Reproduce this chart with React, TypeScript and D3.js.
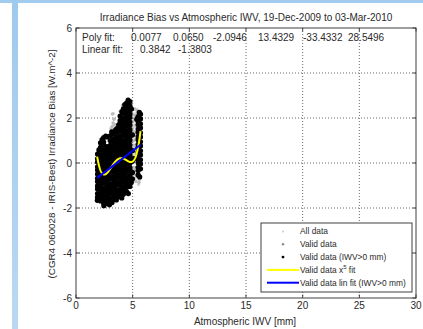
import React from "react";
import * as d3 from "d3";

// ---- data ----
const titleText = "Irradiance Bias vs Atmospheric IWV, 19-Dec-2009 to 03-Mar-2010";
const xLabelText = "Atmospheric IWV [mm]";
const yLabelText = "(CGR4 060028 - IRIS-Best) Irradiance Bias [W.m^-2]";

const xTicks = [0, 5, 10, 15, 20, 25, 30];
const yTicks = [-6, -4, -2, 0, 2, 4, 6];

// 5th-order fit coefficients (highest power first) and linear fit [slope, intercept]
const polyCoefs = [0.0077, 0.065, -2.0946, 13.4329, -33.4332, 28.5496];
const linCoefs = [0.3842, -1.3803];
const fitRange = [1.87, 5.7];

// Valid data with IWV>0 mm: columns of [iwv, bias values]
const validPosColumns: [number, number[]][] = [
  [1.9, [-1.52, -1.36, -1.15, -1.01, -0.82, -0.68, -0.49, -0.31, -0.17, 0.04, 0.19, 0.4]],
  [2.16, [-1.69, -1.49, -1.35, -1.15, -1.0, -0.81, -0.67, -0.47, -0.33, -0.12, 0.02, 0.23, 0.36, 0.57, 0.7, 0.9]],
  [2.44, [-1.79, -1.6, -1.45, -1.25, -1.11, -0.9, -0.77, -0.56, -0.43, -0.24, -0.06, 0.12, 0.25, 0.46, 0.6, 0.8, 0.93, 1.13]],
  [2.73, [-1.8, -1.63, -1.44, -1.3, -1.09, -0.96, -0.76, -0.61, -0.42, -0.28, -0.08, 0.06, 0.26, 0.4, 0.6, 0.73, 1.16]],
  [3.02, [-1.73, -1.58, -1.38, -1.24, -1.04, -0.91, -0.7, -0.56, -0.36, -0.22, -0.03, 0.12, 0.32, 0.46, 0.66, 0.79, 1.0, 1.21]],
  [3.31, [-1.61, -1.42, -1.28, -1.08, -0.94, -0.74, -0.6, -0.4, -0.27, -0.07, 0.07, 0.27, 0.41, 0.61, 0.75, 0.95, 1.09, 1.31]],
  [3.6, [-1.53, -1.33, -1.19, -0.99, -0.86, -0.66, -0.52, -0.32, -0.18, 0.02, 0.15, 0.35, 0.49, 0.69, 0.83, 1.03, 1.17, 1.38, 1.53]],
  [3.89, [-1.5, -1.31, -1.17, -0.97, -0.83, -0.63, -0.49, -0.29, -0.15, 0.05, 0.19, 0.39, 0.53, 0.73, 0.87, 1.07, 1.21, 1.41, 1.55, 1.75, 1.89, 2.09]],
  [4.18, [-1.39, -1.19, -1.05, -0.85, -0.71, -0.51, -0.37, -0.17, -0.03, 0.17, 0.31, 0.51, 0.65, 0.85, 0.99, 1.19, 1.33, 1.53, 1.67, 1.87, 2.01, 2.22, 2.41]],
  [4.47, [-1.28, -1.08, -0.94, -0.74, -0.6, -0.4, -0.26, -0.06, 0.08, 0.28, 0.42, 0.62, 0.76, 0.96, 1.1, 1.3, 1.44, 1.64, 1.78, 1.98, 2.12, 2.32, 2.47, 2.67]],
  [4.76, [-1.04, -0.9, -0.7, -0.56, -0.36, -0.22, -0.02, 0.12, 0.32, 0.46, 0.66, 0.8, 1.0, 1.14, 1.34, 1.48, 1.68, 1.82, 2.02, 2.17, 2.37, 2.55, 2.73]],
  [4.98, [-0.7, -0.42, 0.08, 0.55, 1.25]],
  [5.48, [-0.53, -0.33, -0.19, 0.01, 0.15, 0.35, 0.49, 0.69, 0.83, 1.03, 1.17, 1.37, 1.51, 1.71, 1.85, 2.06]],
  [5.69, [-0.26, -0.04, 0.14, 0.36, 0.54, 0.76, 0.94, 1.16, 1.34, 1.56, 1.74, 1.96, 2.17]],
];

// Scattered valid points around the dense core
const validPosScatter: [number, number][] = [
  [1.88, -1.66], [2.02, 0.58], [2.3, 1.04], [2.46, -1.9], [2.62, 1.2], [2.95, -1.86],
  [3.18, -1.76], [3.15, 1.38], [3.48, 1.46], [3.56, -1.64], [3.76, 1.7], [4.04, -1.55],
  [4.05, 2.28], [4.3, 2.6], [4.62, -1.36], [4.6, 2.8], [4.88, -0.86], [4.9, 2.4],
  [5.12, 0.2], [5.58, 2.25], [5.62, -0.62], [5.36, 1.95],
  [2.3, -0.55], [2.58, 0.1], [2.88, -0.98], [3.17, 0.52], [3.46, -1.18], [3.75, -0.25],
  [4.03, 0.62], [4.32, -0.8], [4.62, 1.2], [4.9, 0.2], [2.02, -1.1], [3.46, 0.92],
];

// Valid data (all IWV), light points mostly hidden behind the IWV>0 set
const validData: [number, number][] = [
  [3.2, 1.62], [3.28, 1.78], [3.35, 1.95], [3.22, 2.18], [3.14, 1.5], [3.42, 1.7],
  [4.95, 1.2], [5.0, 1.55], [5.08, 0.8], [5.14, 0.55], [5.18, 1.9], [5.22, 2.1],
  [5.1, -0.5], [5.2, -0.2], [5.26, 0.1], [5.3, 0.4], [5.32, 0.75], [5.24, 1.05],
  [5.34, 1.35], [5.28, 1.65], [5.36, -0.55], [5.3, -0.82], [5.56, -0.86], [5.6, -0.72],
  [5.66, 2.28], [5.38, 2.35], [5.2, 2.4], [4.98, 2.15], [5.15, -0.78], [5.42, -0.3],
  [3.9, 2.3], [4.12, 2.55], [5.05, 0.3], [5.1, 1.0], [5.06, -0.2], [5.12, 1.4],
  [5.02, 1.85], [5.16, -0.35], [5.22, 0.7], [5.2, 1.25],
];

// All data (includes invalid records)
const allData: [number, number][] = [
  [5.05, 1.35], [5.12, 1.7], [5.25, -0.65], [5.4, 0.9], [5.44, 0.15], [3.08, 1.55],
  [3.3, 2.2], [5.52, -0.95], [5.28, 2.2],
];

// ---- layout ----
const W = 423;
const H = 329;
const plot = { left: 76, right: 416, top: 28, bottom: 298 };
const fontFamily = "'Liberation Sans', Arial, sans-serif";

const polyTextX = [131, 173, 213, 258, 303, 348];
const linTextX = [140, 178];

const legendItems = [
  { label: "All data", kind: "dot", color: "#c8c8c8", r: 1.0 },
  { label: "Valid data", kind: "dot", color: "#8a8a8a", r: 1.2 },
  { label: "Valid data (IWV>0 mm)", kind: "dot", color: "#000000", r: 1.4 },
  { label: "Valid data x", sup: "5", after: " fit", kind: "line", color: "#ffff00" },
  { label: "Valid data lin fit (IWV>0 mm)", kind: "line", color: "#0000ff" },
];

function polyval(c: number[], x: number) {
  return c.reduce((acc, k) => acc * x + k, 0);
}

export default function App() {
  const x = d3.scaleLinear().domain([0, 30]).range([plot.left, plot.right]);
  const y = d3.scaleLinear().domain([-6, 6]).range([plot.bottom, plot.top]);

  const validPos: [number, number][] = [];
  validPosColumns.forEach(([iwv, biases]) => biases.forEach((b) => validPos.push([iwv, b])));
  validPosScatter.forEach((p) => validPos.push(p));

  const fitXs = d3.range(fitRange[0], fitRange[1] + 1e-9, 0.02);
  const line = d3
    .line<[number, number]>()
    .x((d) => x(d[0]))
    .y((d) => y(d[1]));
  const polyPath = line(fitXs.map((v) => [v, polyval(polyCoefs, v)] as [number, number]));
  const linPath = line(
    [fitRange[0], fitRange[1]].map((v) => [v, polyval(linCoefs, v)] as [number, number])
  );

  const tickLen = 3.5;
  const gridColor = "#6a6a6a";
  const axisColor = "#404040";
  const textColor = "#2a2a2a";

  const leg = { x: 261, y: 223, w: 151, h: 69, rowY0: 231.5, rowStep: 12.8 };

  return (
    <svg
      width={W}
      height={H}
      style={{ position: "absolute", left: 0, top: 0, background: "#ffffff" }}
      fontFamily={fontFamily}
    >
      <defs>
        <linearGradient id="sideBand" x1="0" y1="0" x2="0" y2="1">
          <stop offset="0" stopColor="#9ecaee" />
          <stop offset="1" stopColor="#bad8f3" />
        </linearGradient>
        <clipPath id="plotClip">
          <rect x={plot.left} y={plot.top} width={plot.right - plot.left} height={plot.bottom - plot.top} />
        </clipPath>
      </defs>
      <rect x={0} y={0} width={W} height={H} fill="#ffffff" />
      <rect x={0} y={0} width={W} height={3} fill="#a2ccef" />
      <rect x={12} y={0} width={6} height={H} fill="url(#sideBand)" />

      {/* grid */}
      {xTicks.slice(1, -1).map((t) => (
        <line key={"gx" + t} x1={x(t)} x2={x(t)} y1={plot.top} y2={plot.bottom}
          stroke={gridColor} strokeWidth={1} strokeDasharray="1 2" />
      ))}
      {yTicks.slice(1, -1).map((t) => (
        <line key={"gy" + t} x1={plot.left} x2={plot.right} y1={y(t)} y2={y(t)}
          stroke={gridColor} strokeWidth={1} strokeDasharray="1 2" />
      ))}

      {/* scatter */}
      <g clipPath="url(#plotClip)">
        {allData.map((d, i) => (
          <circle key={"a" + i} cx={x(d[0])} cy={y(d[1])} r={1.6} fill="#d2d2d2" />
        ))}
        {validData.map((d, i) => (
          <circle key={"v" + i} cx={x(d[0])} cy={y(d[1])} r={1.8} fill="#bdbdbd" />
        ))}
        {validPos.map((d, i) => (
          <circle key={"p" + i} cx={x(d[0])} cy={y(d[1])} r={2.6} fill="#000000" />
        ))}
        <path d={polyPath || ""} fill="none" stroke="#ffff00" strokeWidth={2} />
        <path d={linPath || ""} fill="none" stroke="#0000ff" strokeWidth={2} />
      </g>

      {/* axes box and ticks */}
      <rect x={plot.left} y={plot.top} width={plot.right - plot.left} height={plot.bottom - plot.top}
        fill="none" stroke={axisColor} strokeWidth={1} />
      {xTicks.map((t) => (
        <g key={"tx" + t}>
          <line x1={x(t)} x2={x(t)} y1={plot.bottom} y2={plot.bottom - tickLen} stroke={axisColor} />
          <line x1={x(t)} x2={x(t)} y1={plot.top} y2={plot.top + tickLen} stroke={axisColor} />
          <text x={x(t)} y={309} fontSize={10} textAnchor="middle" fill={textColor}>{t}</text>
        </g>
      ))}
      {yTicks.map((t) => (
        <g key={"ty" + t}>
          <line x1={plot.left} x2={plot.left + tickLen} y1={y(t)} y2={y(t)} stroke={axisColor} />
          <line x1={plot.right} x2={plot.right - tickLen} y1={y(t)} y2={y(t)} stroke={axisColor} />
          <text x={72} y={y(t)} dy="0.35em" fontSize={10} textAnchor="end" fill={textColor}>{t}</text>
        </g>
      ))}

      {/* titles */}
      <text x={246} y={20.5} fontSize={10} textAnchor="middle" fill={textColor}>{titleText}</text>
      <text x={245} y={325} fontSize={10} textAnchor="middle" fill={textColor}>{xLabelText}</text>
      <text transform={`translate(52,164) rotate(-90)`} dy="0.35em" fontSize={9.8} textAnchor="middle" fill={textColor}>
        {yLabelText}
      </text>

      {/* fit coefficients */}
      <text x={82} y={41} fontSize={10} fill={textColor}>Poly fit:</text>
      {polyCoefs.map((c, i) => (
        <text key={"pc" + i} x={polyTextX[i]} y={41} fontSize={10} fill={textColor}>{c.toFixed(4)}</text>
      ))}
      <text x={82} y={53} fontSize={10} fill={textColor}>Linear fit:</text>
      {linCoefs.map((c, i) => (
        <text key={"lc" + i} x={linTextX[i]} y={53} fontSize={10} fill={textColor}>{c.toFixed(4)}</text>
      ))}

      {/* legend */}
      <rect x={leg.x} y={leg.y} width={leg.w} height={leg.h} fill="#ffffff" stroke={axisColor} strokeWidth={1} />
      {legendItems.map((it, i) => {
        const cy = leg.rowY0 + i * leg.rowStep;
        return (
          <g key={"lg" + i}>
            {it.kind === "dot" ? (
              <circle cx={283} cy={cy} r={it.r} fill={it.color} />
            ) : (
              <line x1={267} x2={299} y1={cy} y2={cy} stroke={it.color} strokeWidth={2} />
            )}
            <text x={300} y={cy} dy="0.35em" fontSize={8.4} fill={textColor}>
              {it.label}
              {it.sup ? (
                <tspan fontSize={6} dy="-3.5">{it.sup}</tspan>
              ) : null}
              {it.after ? <tspan dy="3.5">{it.after}</tspan> : null}
            </text>
          </g>
        );
      })}
    </svg>
  );
}
